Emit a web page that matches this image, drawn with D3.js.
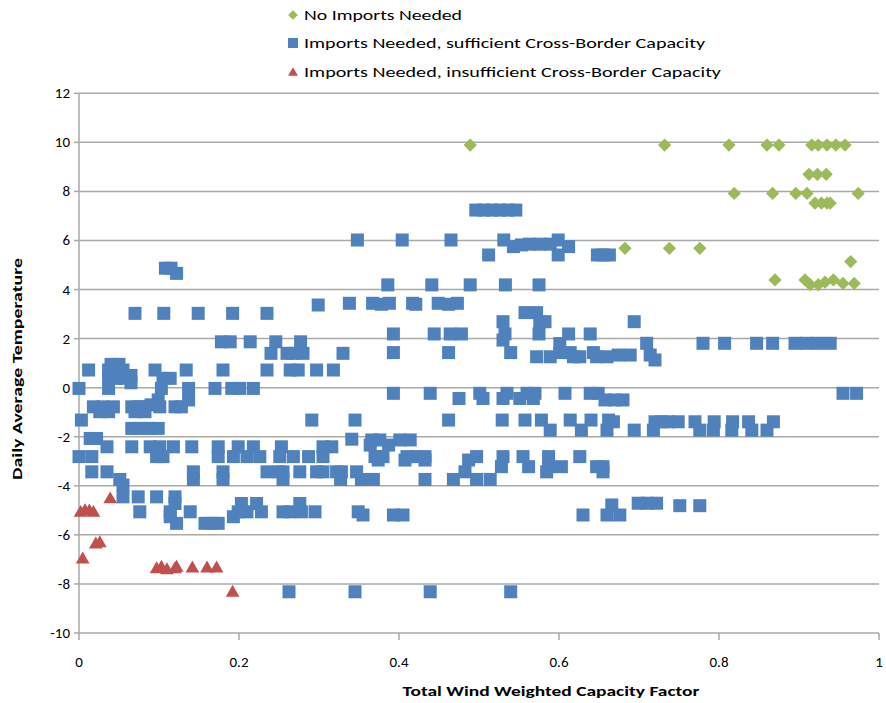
<!DOCTYPE html>
<html>
<head>
<meta charset="utf-8">
<script src="https://cdn.jsdelivr.net/npm/d3@7/dist/d3.min.js"></script>
<style>
  html, body { margin: 0; padding: 0; background: #fff; }
  svg { display: block; font-family: Carlito, "Liberation Sans Narrow", "Open Sans", sans-serif; }
  .grid line { stroke: #a9a9a9; stroke-width: 1.5; }
  .tick-label { font-size: 15px; fill: #000; }
  .axis-title { font-size: 14px; font-weight: bold; fill: #000; }
  .legend-text { font-size: 15px; fill: #000; }
</style>
</head>
<body>
<svg id="chart" width="886" height="703"></svg>
<script>
// ---- data ----
const X_TICKS = [0, 0.2, 0.4, 0.6, 0.8, 1];
const Y_TICKS = [-10, -8, -6, -4, -2, 0, 2, 4, 6, 8, 10, 12];
const SERIES_NAMES = [
  'No Imports Needed',
  'Imports Needed, sufficient Cross-Border Capacity',
  'Imports Needed, insufficient Cross-Border Capacity'
];

// green diamonds
const noImports = [
  [0.489, 9.89], [0.732, 9.89], [0.8125, 9.89], [0.86, 9.89], [0.875, 9.89],
  [0.916, 9.89], [0.924, 9.89], [0.935, 9.89], [0.946, 9.89], [0.9575, 9.89],
  [0.9125, 8.7], [0.923, 8.7], [0.934, 8.7],
  [0.819, 7.92], [0.867, 7.92], [0.896, 7.92], [0.91, 7.92], [0.974, 7.92],
  [0.92, 7.52], [0.928, 7.52], [0.935, 7.52], [0.939, 7.52],
  [0.6825, 5.68], [0.738, 5.68], [0.776, 5.68],
  [0.9646, 5.14],
  [0.87, 4.39], [0.9075, 4.39], [0.914, 4.2], [0.924, 4.2], [0.9325, 4.3],
  [0.943, 4.39], [0.955, 4.25], [0.969, 4.25]
];

// blue squares
const sufficient = [
  [0.108, 4.87], [0.115, 4.87], [0.122, 4.66],
  [0.348, 6.02], [0.404, 6.02], [0.465, 6.02], [0.531, 6.02], [0.599, 6.02],
  [0.496, 7.24], [0.506, 7.24], [0.516, 7.24], [0.526, 7.24], [0.536, 7.24], [0.546, 7.24],
  [0.543, 5.75], [0.553, 5.82], [0.563, 5.85], [0.576, 5.85], [0.589, 5.85], [0.612, 5.75],
  [0.512, 5.41], [0.599, 5.41], [0.648, 5.41], [0.655, 5.41], [0.663, 5.41],
  [0.386, 4.19], [0.441, 4.19], [0.489, 4.19], [0.533, 4.19], [0.575, 4.19],
  [0.338, 3.44], [0.367, 3.44], [0.378, 3.4], [0.388, 3.44], [0.417, 3.44], [0.421, 3.4],
  [0.449, 3.44], [0.462, 3.4], [0.473, 3.44], [0.299, 3.37],
  [0.07, 3.03], [0.106, 3.03], [0.149, 3.03], [0.192, 3.03], [0.235, 3.03],
  [0.5575, 3.06], [0.572, 3.06], [0.576, 2.69], [0.5825, 2.69], [0.53, 2.69], [0.694, 2.69],
  [0.393, 2.19], [0.444, 2.19], [0.464, 2.19], [0.478, 2.19], [0.5325, 2.19],
  [0.575, 2.19], [0.612, 2.19], [0.639, 2.19],
  [0.178, 1.87], [0.189, 1.87], [0.214, 1.87], [0.246, 1.87], [0.277, 1.87],
  [0.53, 1.94], [0.601, 1.8],
  [0.24, 1.4], [0.26, 1.4], [0.268, 1.4], [0.28, 1.4], [0.33, 1.4], [0.393, 1.43],
  [0.462, 1.43], [0.5396, 1.43], [0.601, 1.43], [0.614, 1.43], [0.643, 1.43],
  [0.572, 1.26], [0.589, 1.26], [0.618, 1.26], [0.626, 1.26], [0.647, 1.26], [0.66, 1.26],
  [0.674, 1.33], [0.689, 1.33], [0.714, 1.33], [0.72, 1.13],
  [0.7096, 1.81], [0.78, 1.81], [0.807, 1.81], [0.847, 1.81], [0.867, 1.81],
  [0.895, 1.81], [0.9096, 1.81], [0.924, 1.81], [0.939, 1.81],
  [0.012, 0.72], [0.037, 0.72], [0.045, 0.72], [0.055, 0.72], [0.095, 0.72], [0.134, 0.72],
  [0.18, 0.72], [0.235, 0.72], [0.264, 0.72], [0.274, 0.72], [0.297, 0.72], [0.318, 0.72],
  [0.04, 0.95], [0.05, 0.95], [0.065, 0.5], [0.065, 0.2],
  [0.037, 0.38], [0.045, 0.38], [0.0575, 0.38], [0.105, 0.38], [0.114, 0.38],
  [0.0, -0.03], [0.037, -0.03], [0.103, -0.03], [0.137, -0.03], [0.17, -0.03],
  [0.191, -0.03], [0.201, -0.03], [0.218, -0.03],
  [0.099, -0.5], [0.137, -0.5],
  [0.018, -0.78], [0.03, -0.78], [0.043, -0.78], [0.066, -0.78], [0.074, -0.78],
  [0.08, -0.78], [0.09, -0.7], [0.101, -0.78], [0.12, -0.78], [0.128, -0.78],
  [0.026, -0.98], [0.037, -0.98], [0.07, -0.98], [0.0825, -0.98],
  [0.003, -1.32], [0.291, -1.32], [0.345, -1.32],
  [0.066, -1.66], [0.076, -1.66], [0.087, -1.66], [0.099, -1.66],
  [0.014, -2.07], [0.022, -2.07], [0.341, -2.1],
  [0.035, -2.41], [0.066, -2.41], [0.089, -2.41], [0.101, -2.41], [0.118, -2.41],
  [0.141, -2.41], [0.174, -2.41], [0.199, -2.41], [0.218, -2.41], [0.253, -2.41],
  [0.305, -2.41], [0.316, -2.41],
  [0.0, -2.81], [0.016, -2.81], [0.097, -2.81], [0.105, -2.81], [0.174, -2.81],
  [0.193, -2.81], [0.21, -2.81], [0.226, -2.81], [0.251, -2.81], [0.268, -2.81],
  [0.287, -2.81], [0.305, -2.81],
  [0.016, -3.43], [0.035, -3.43], [0.143, -3.43], [0.18, -3.43], [0.235, -3.43],
  [0.249, -3.43], [0.255, -3.43], [0.276, -3.43], [0.297, -3.43], [0.305, -3.43],
  [0.322, -3.43], [0.328, -3.43], [0.347, -3.43],
  [0.051, -3.74], [0.143, -3.74], [0.18, -3.74], [0.255, -3.74], [0.327, -3.74],
  [0.055, -3.97],
  [0.055, -4.45], [0.074, -4.45], [0.097, -4.45], [0.12, -4.45],
  [0.12, -4.72], [0.203, -4.72], [0.222, -4.72], [0.276, -4.72],
  [0.076, -5.06], [0.114, -5.06], [0.139, -5.06], [0.199, -5.06], [0.21, -5.06],
  [0.228, -5.06], [0.255, -5.06], [0.264, -5.06], [0.278, -5.06], [0.295, -5.06], [0.349, -5.06],
  [0.114, -5.26], [0.193, -5.26],
  [0.122, -5.53], [0.1575, -5.53], [0.166, -5.53], [0.174, -5.53],
  [0.2625, -8.32], [0.345, -8.32], [0.439, -8.32], [0.5396, -8.32],
  [0.393, -0.23], [0.439, -0.23], [0.501, -0.23], [0.535, -0.23], [0.56, -0.23],
  [0.57, -0.23], [0.6075, -0.23], [0.639, -0.23], [0.649, -0.23], [0.955, -0.23], [0.972, -0.23],
  [0.475, -0.44], [0.505, -0.44], [0.53, -0.44], [0.551, -0.44], [0.568, -0.44],
  [0.6575, -0.5], [0.67, -0.5], [0.68, -0.5],
  [0.462, -1.32], [0.529, -1.32], [0.5575, -1.32], [0.578, -1.32], [0.614, -1.32],
  [0.64, -1.32], [0.662, -1.32],
  [0.668, -1.39], [0.72, -1.39], [0.728, -1.39], [0.737, -1.39], [0.749, -1.39],
  [0.77, -1.39], [0.794, -1.39], [0.817, -1.39], [0.837, -1.39], [0.868, -1.39],
  [0.589, -1.73], [0.628, -1.73], [0.66, -1.73], [0.694, -1.73], [0.718, -1.73],
  [0.776, -1.73], [0.793, -1.73], [0.816, -1.73], [0.841, -1.73], [0.86, -1.73],
  [0.366, -2.13], [0.376, -2.13], [0.401, -2.13], [0.414, -2.13],
  [0.364, -2.34], [0.387, -2.34],
  [0.37, -2.81], [0.38, -2.81], [0.41, -2.81], [0.422, -2.81], [0.4325, -2.81],
  [0.497, -2.81], [0.53, -2.81], [0.555, -2.81], [0.587, -2.81], [0.626, -2.81],
  [0.374, -2.95], [0.4075, -2.95], [0.4325, -2.95], [0.487, -2.95],
  [0.528, -3.22], [0.562, -3.22], [0.587, -3.22], [0.603, -3.22], [0.647, -3.22], [0.655, -3.22],
  [0.4825, -3.43], [0.5846, -3.43], [0.655, -3.43],
  [0.353, -3.74], [0.368, -3.74], [0.4325, -3.74], [0.468, -3.74], [0.497, -3.74], [0.514, -3.74],
  [0.355, -5.19], [0.393, -5.19], [0.405, -5.19], [0.63, -5.19], [0.66, -5.19], [0.676, -5.19],
  [0.666, -4.78], [0.699, -4.71], [0.71, -4.71], [0.722, -4.71], [0.751, -4.81], [0.776, -4.81]
];

// red triangles
const insufficient = [
  [0.002, -5.06], [0.0075, -4.99], [0.013, -5.0], [0.018, -5.06],
  [0.039, -4.51],
  [0.021, -6.35], [0.026, -6.3],
  [0.0046, -6.96],
  [0.097, -7.36], [0.103, -7.3], [0.11, -7.4], [0.12, -7.36], [0.122, -7.3],
  [0.1417, -7.33], [0.16, -7.33], [0.172, -7.33],
  [0.192, -8.32]
];

const COLORS = ['#9BBB59', '#4F81BD', '#C0504D'];

// ---- layout ----
const svg = d3.select('#chart');
const plotLeft = 79, plotRight = 879, plotTop = 93.3, plotBottom = 633;

const x = d3.scaleLinear().domain([0, 1]).range([plotLeft, plotRight]);
const y = d3.scaleLinear().domain([-10, 12]).range([plotBottom, plotTop]);

// horizontal gridlines (bottom one doubles as the x axis)
svg.append('g').attr('class', 'grid')
  .selectAll('line')
  .data(Y_TICKS)
  .join('line')
  .attr('x1', plotLeft).attr('x2', plotRight)
  .attr('y1', d => y(d)).attr('y2', d => y(d));

// y axis line + small ticks
svg.append('line')
  .attr('x1', plotLeft).attr('x2', plotLeft).attr('y1', plotTop).attr('y2', plotBottom)
  .attr('stroke', '#a9a9a9').attr('stroke-width', 1.5);
svg.append('g').selectAll('line')
  .data(Y_TICKS).join('line')
  .attr('x1', plotLeft - 5).attr('x2', plotLeft)
  .attr('y1', d => y(d)).attr('y2', d => y(d))
  .attr('stroke', '#a9a9a9').attr('stroke-width', 1.5);

// x axis ticks
svg.append('g').selectAll('line')
  .data(X_TICKS).join('line')
  .attr('x1', d => x(d)).attr('x2', d => x(d))
  .attr('y1', plotBottom).attr('y2', plotBottom + 7)
  .attr('stroke', '#a9a9a9').attr('stroke-width', 1.5);

// tick labels
svg.append('g').selectAll('text')
  .data(Y_TICKS).join('text')
  .attr('class', 'tick-label')
  .attr('x', 70).attr('y', d => y(d) + 5)
  .attr('text-anchor', 'end')
  .text(d => d);

svg.append('g').selectAll('text')
  .data(X_TICKS).join('text')
  .attr('class', 'tick-label')
  .attr('x', d => x(d)).attr('y', 667)
  .attr('text-anchor', 'middle')
  .text(d => d);

// axis titles
svg.append('text')
  .attr('class', 'axis-title')
  .attr('x', 551).attr('y', 696)
  .attr('text-anchor', 'middle')
  .attr('textLength', 297).attr('lengthAdjust', 'spacingAndGlyphs')
  .text('Total Wind Weighted Capacity Factor');

svg.append('text')
  .attr('class', 'axis-title')
  .attr('transform', 'translate(22,369) rotate(-90)')
  .attr('text-anchor', 'middle')
  .attr('textLength', 222).attr('lengthAdjust', 'spacingAndGlyphs')
  .text('Daily Average Temperature');

// ---- marks ----
const diamond = d3.symbol().type(d3.symbolDiamond2).size(112);
const triangle = d3.symbol().type(d3.symbolTriangle2).size(135);

const plot = svg.append('g');

plot.append('g').selectAll('rect')
  .data(sufficient).join('rect')
  .attr('x', d => x(d[0]) - 6.5).attr('y', d => y(d[1]) - 6.5)
  .attr('width', 13).attr('height', 13)
  .attr('fill', COLORS[1]);

plot.append('g').selectAll('path')
  .data(noImports).join('path')
  .attr('d', diamond)
  .attr('transform', d => `translate(${x(d[0])},${y(d[1])})`)
  .attr('fill', COLORS[0]);

plot.append('g').selectAll('path')
  .data(insufficient).join('path')
  .attr('d', triangle)
  .attr('transform', d => `translate(${x(d[0])},${y(d[1]) + 1})`)
  .attr('fill', COLORS[2]);

// ---- legend ----
const LEGEND_Y = [15, 43, 72];
const LEGEND_W = [158, 401, 417];
const lg = svg.append('g');
lg.append('path').attr('d', d3.symbol().type(d3.symbolDiamond2).size(60))
  .attr('transform', `translate(293,${LEGEND_Y[0]})`).attr('fill', COLORS[0]);
lg.append('rect').attr('x', 288).attr('y', LEGEND_Y[1] - 5).attr('width', 10).attr('height', 10)
  .attr('fill', COLORS[1]);
lg.append('path').attr('d', d3.symbol().type(d3.symbolTriangle2).size(70))
  .attr('transform', `translate(293,${LEGEND_Y[2] + 1})`).attr('fill', COLORS[2]);
lg.selectAll('text')
  .data(SERIES_NAMES).join('text')
  .attr('class', 'legend-text')
  .attr('x', 304).attr('y', (d, i) => LEGEND_Y[i] + 5)
  .attr('textLength', (d, i) => LEGEND_W[i]).attr('lengthAdjust', 'spacingAndGlyphs')
  .text(d => d);
</script>
</body>
</html>
